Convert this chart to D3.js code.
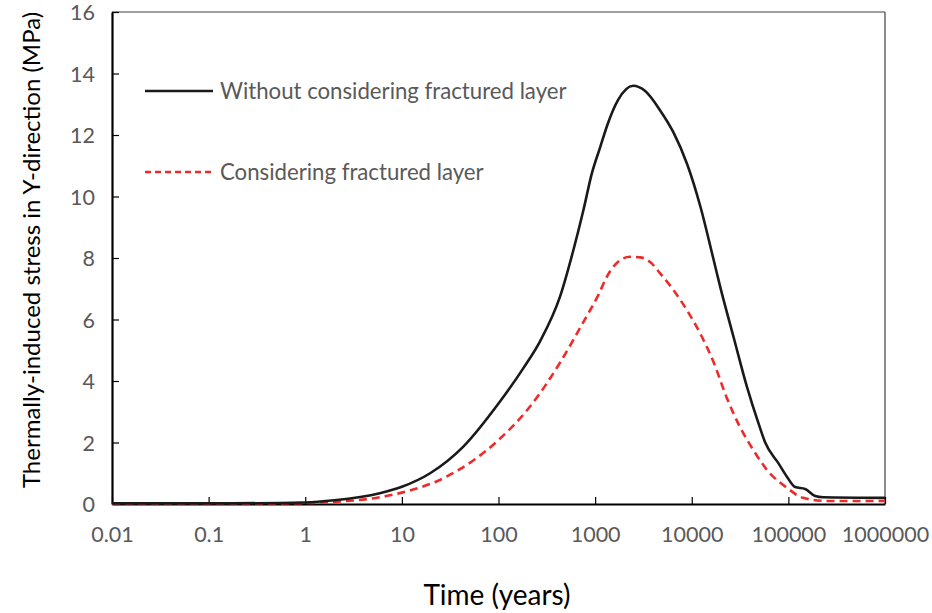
<!DOCTYPE html>
<html>
<head>
<meta charset="utf-8">
<script src="https://cdn.jsdelivr.net/npm/d3@7"></script>
<style>
  html, body { margin: 0; padding: 0; background: #fff; }
  svg { display: block; }
  text { font-family: Lato, "Open Sans", sans-serif; }
</style>
</head>
<body>
<svg id="chart" width="932" height="613"></svg>
<script>
// Thermally-induced stress (MPa) over time (years)
const timeWithout = [0.01, 0.1, 1, 2, 5.9, 10, 19.6, 43, 100, 181, 270, 434, 596, 757, 925, 1127, 1364, 1730, 2473, 3297, 4710, 6427, 8970, 12220, 16670, 19680, 27030, 37210, 49090, 57550, 79100, 96500, 117600, 149200, 189300, 229000, 1000000];
const stressWithout = [0.02, 0.02, 0.05, 0.12, 0.35, 0.56, 1.0, 1.86, 3.27, 4.42, 5.3, 6.75, 8.26, 9.56, 10.75, 11.6, 12.4, 13.14, 13.6, 13.43, 12.8, 12.1, 11.05, 9.7, 8.0, 7.07, 5.44, 3.82, 2.62, 2.0, 1.32, 0.89, 0.55, 0.49, 0.26, 0.22, 0.2];

const timeWith = [0.01, 0.1, 1, 2, 5.9, 10, 29, 100, 212, 434, 750, 1081, 1321, 1815, 2303, 2923, 3707, 4710, 6457, 8890, 12210, 16790, 23070, 31620, 43500, 60400, 97200, 142300, 251600, 1000000];
const stressWith = [0.01, 0.01, 0.03, 0.07, 0.22, 0.37, 0.89, 2.08, 3.17, 4.6, 5.9, 6.8, 7.39, 7.93, 8.04, 8.02, 7.87, 7.5, 6.96, 6.31, 5.55, 4.62, 3.45, 2.5, 1.75, 1.1, 0.52, 0.2, 0.1, 0.1];

const xTicks = [0.01, 0.1, 1, 10, 100, 1000, 10000, 100000, 1000000];
const xTickLabels = ["0.01", "0.1", "1", "10", "100", "1000", "10000", "100000", "1000000"];
const yTicks = [0, 2, 4, 6, 8, 10, 12, 14, 16];

const seriesNames = ["Without considering fractured layer", "Considering fractured layer"];

const margin = { left: 112, right: 47, top: 12, bottom: 109 };
const W = 932, H = 613;
const svg = d3.select("#chart");

const x = d3.scaleLog().domain([0.01, 1000000]).range([margin.left, W - margin.right]);
const y = d3.scaleLinear().domain([0, 16]).range([H - margin.bottom, margin.top]);

const tickColor = "#595959";

// frame: top and right edges
svg.append("line").attr("x1", x(0.01)).attr("x2", x(1000000)).attr("y1", y(16)).attr("y2", y(16))
  .attr("stroke", "#7f7f7f").attr("stroke-width", 1.5);
svg.append("line").attr("x1", x(1000000)).attr("x2", x(1000000)).attr("y1", y(16)).attr("y2", y(0))
  .attr("stroke", "#404040").attr("stroke-width", 1.2);

// x axis
const xAxis = d3.axisBottom(x).tickValues(xTicks).tickSizeInner(-7).tickSizeOuter(0)
  .tickFormat((d, i) => xTickLabels[i]);
const gx = svg.append("g").attr("transform", `translate(0,${y(0)})`).call(xAxis);
gx.select(".domain").attr("stroke", "#000").attr("stroke-width", 2.2);
gx.selectAll(".tick line").attr("stroke", "#000").attr("stroke-width", 1.2);
gx.selectAll(".tick text").attr("fill", tickColor).attr("font-size", 21.5).attr("dy", 0).attr("y", 38);

// y axis
const yAxis = d3.axisLeft(y).tickValues(yTicks).tickSizeInner(-7).tickSizeOuter(0);
const gy = svg.append("g").attr("transform", `translate(${x(0.01)},0)`).call(yAxis);
gy.select(".domain").attr("stroke", "#000").attr("stroke-width", 2.2);
gy.selectAll(".tick line").attr("stroke", "#000").attr("stroke-width", 1.2);
gy.selectAll(".tick text").attr("fill", tickColor).attr("font-size", 21.5).attr("x", -17).attr("dy", "0.35em");

// axis titles
svg.append("text").attr("x", 497).attr("y", 605).attr("text-anchor", "middle")
  .attr("font-size", 28).attr("fill", "#000").text("Time (years)");
svg.append("text").attr("transform", "translate(40,250) rotate(-90)").attr("text-anchor", "middle")
  .attr("font-size", 24).attr("fill", "#000").text("Thermally-induced stress in Y-direction (MPa)");

// curves
const line = d3.line().x(d => x(d[0])).y(d => y(d[1])).curve(d3.curveMonotoneX);

svg.append("path").datum(d3.zip(timeWith, stressWith)).attr("d", line)
  .attr("fill", "none").attr("stroke", "#ee2b2b").attr("stroke-width", 2.6)
  .attr("stroke-dasharray", "8,5");
svg.append("path").datum(d3.zip(timeWithout, stressWithout)).attr("d", line)
  .attr("fill", "none").attr("stroke", "#1a1a1a").attr("stroke-width", 2.6);

// legend
const legend = svg.append("g");
legend.append("line").attr("x1", 145).attr("x2", 213).attr("y1", 91).attr("y2", 91)
  .attr("stroke", "#1a1a1a").attr("stroke-width", 2.6);
legend.append("text").attr("x", 220).attr("y", 99).attr("font-size", 22.2).attr("fill", tickColor).text(seriesNames[0]);
legend.append("line").attr("x1", 145).attr("x2", 213).attr("y1", 172).attr("y2", 172)
  .attr("stroke", "#ee2b2b").attr("stroke-width", 2.6).attr("stroke-dasharray", "6,4");
legend.append("text").attr("x", 220).attr("y", 180).attr("font-size", 22.2).attr("fill", tickColor).text(seriesNames[1]);
</script>
</body>
</html>
